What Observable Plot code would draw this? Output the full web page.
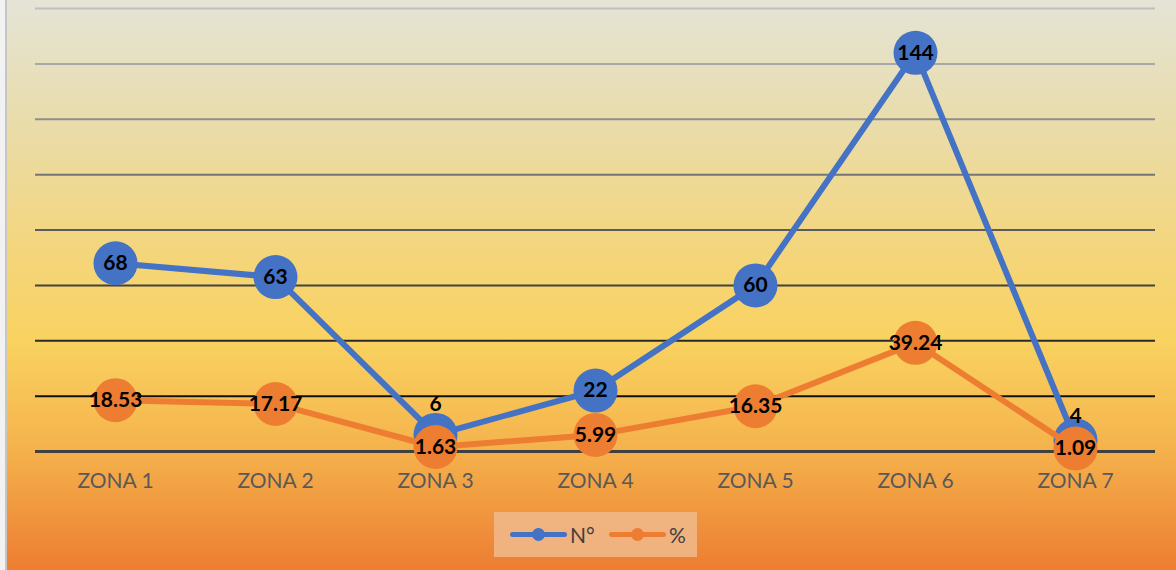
<!DOCTYPE html>
<html>
<head>
<meta charset="utf-8">
<script src="https://cdn.jsdelivr.net/npm/d3@7"></script>
<script src="https://cdn.jsdelivr.net/npm/@observablehq/plot@0.6"></script>
<style>
  html, body { margin: 0; padding: 0; background: #f2f2f2; }
  #wrap {
    position: absolute; left: 5px; top: 0; width: 1169px; height: 570px;
    border-left: 2px solid #c6c6c6;
    background: linear-gradient(to bottom, #e4e4d6 0%, #e9ddae 20%, #f4d57a 45%, #f9d260 60%, #f5b44d 78%, #f19b41 88%, #ed7d31 100%);
    overflow: hidden;
  }
  #chart { position: absolute; left: -7px; top: 0; }
  #legend {
    position: absolute; left: 487px; top: 512px; width: 203px; height: 45px;
    background: rgba(240, 186, 140, 0.85);
    font-family: Lato, "Open Sans", sans-serif; font-size: 21px; color: #404040;
  }
  .item { position: absolute; top: 0; height: 45px; display: flex; align-items: center; }
  .sw { position: relative; width: 57px; height: 45px; }
  .sw .ln { position: absolute; left: 0; right: 0; top: 20px; height: 5px; border-radius: 3px; }
  .sw .dt { position: absolute; left: 22px; top: 16px; width: 13px; height: 13px; border-radius: 50%; }
</style>
</head>
<body>
<div id="wrap">
  <div id="chart"></div>
  <div id="legend"></div>
</div>
<script>
const zones = ["ZONA 1", "ZONA 2", "ZONA 3", "ZONA 4", "ZONA 5", "ZONA 6", "ZONA 7"];
const countValues = [68, 63, 6, 22, 60, 144, 4];
const pctValues = [18.53, 17.17, 1.63, 5.99, 16.35, 39.24, 1.09];
const pctLabels = ["18.53", "17.17", "1.63", "5.99", "16.35", "39.24", "1.09"];
const seriesNames = ["N°", "%"];
const yTicks = [0, 20, 40, 60, 80, 100, 120, 140, 160];

const blue = "#4472c4";
const orange = "#ed7d31";

const countData = zones.map((z, i) => ({zone: z, v: countValues[i], label: String(countValues[i])}));
const pctData = zones.map((z, i) => ({zone: z, v: pctValues[i], label: pctLabels[i]}));

const gridColor = d3.scaleLinear().domain([20, 160]).range(["#111111", "#c0c0c0"]).interpolate(d3.interpolateRgb);

const font = "Lato, 'Open Sans', sans-serif";
const labelStyle = {fontSize: 21, fontWeight: "bold", fill: "black"};

const plot = Plot.plot({
  width: 1176,
  height: 505,
  marginLeft: 35,
  marginRight: 21,
  marginTop: 8,
  marginBottom: 54,
  style: {background: "transparent", fontFamily: font, overflow: "visible"},
  x: {domain: zones, type: "point", padding: 0.5, label: null},
  y: {domain: [0, 160], axis: null},
  marks: [
    Plot.ruleY(yTicks.filter(d => d > 0), {y: d => d, stroke: d => gridColor(d), strokeWidth: 2}),
    Plot.ruleY([0], {stroke: "#404040", strokeWidth: 3}),
    Plot.axisX({tickSize: 0, tickPadding: 22, fontSize: 21, fill: "#595959", label: null}),
    Plot.line(countData, {x: "zone", y: "v", stroke: blue, strokeWidth: 6, strokeLinejoin: "round"}),
    Plot.dot(countData, {x: "zone", y: "v", r: 22, fill: blue}),
    Plot.line(pctData, {x: "zone", y: "v", stroke: orange, strokeWidth: 6, strokeLinejoin: "round"}),
    Plot.dot(pctData, {x: "zone", y: "v", r: 22, fill: orange}),
    Plot.text(countData, {x: "zone", y: "v", text: "label", ...labelStyle, filter: d => d.v >= 10}),
    Plot.text(countData, {x: "zone", y: "v", text: "label", dy: -31, ...labelStyle, filter: d => d.zone === "ZONA 3"}),
    Plot.text(countData, {x: "zone", y: "v", text: "label", dy: -24, ...labelStyle, filter: d => d.zone === "ZONA 7"}),
    Plot.text(pctData, {x: "zone", y: "v", text: "label", ...labelStyle})
  ]
});
document.getElementById("chart").appendChild(plot);

const legend = document.getElementById("legend");
const colors = [blue, orange];
const lefts = [16, 115];
seriesNames.forEach((name, i) => {
  const it = document.createElement("div");
  it.className = "item";
  it.style.left = lefts[i] + "px";
  it.innerHTML = `<div class="sw"><div class="ln" style="background:${colors[i]}"></div><div class="dt" style="background:${colors[i]}"></div></div><span style="margin-left:3px">${name}</span>`;
  legend.appendChild(it);
});
</script>
</body>
</html>
